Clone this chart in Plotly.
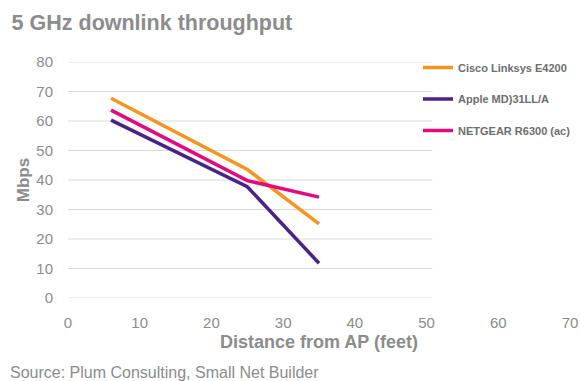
import plotly.graph_objects as go

distance = [6, 25, 35]
cisco = [67.7, 43.6, 25.1]
apple = [60.3, 37.7, 11.8]
netgear = [63.7, 39.8, 34.2]
series_names = ["Cisco Linksys E4200", "Apple MD)31LL/A", "NETGEAR R6300 (ac)"]
colors = ["#F7941D", "#4B2386", "#E5097F"]
y_ticks = [0, 10, 20, 30, 40, 50, 60, 70, 80]
x_ticks = [0, 10, 20, 30, 40, 50, 60, 70]

GRAY = "#8C8C8C"
FONT = "Liberation Sans, Arial, sans-serif"

fig = go.Figure()
for i, (name, vals, c) in enumerate(zip(series_names, [cisco, apple, netgear], colors)):
    fig.add_trace(go.Scatter(x=distance, y=vals, mode="lines", name="<b>" + name + "</b>",
                             legendgroup=f"g{i}",
                             line=dict(color=c, width=3.5)))

# gridlines (only across left part of plot, as in reference)
for t in y_ticks:
    fig.add_shape(type="line", xref="paper", yref="y", x0=0, x1=0.726, y0=t, y1=t,
                  line=dict(color="#D9D9D9", width=1), layer="below")

fig.update_layout(
    width=580, height=381,
    margin=dict(l=68, r=10, t=62, b=83, autoexpand=False),
    paper_bgcolor="white", plot_bgcolor="white",
    font=dict(family=FONT, color=GRAY),
    title=dict(text="<b>5 GHz downlink throughput</b>", x=0.02, xanchor="left",
               y=0.942, yanchor="middle", font=dict(size=21.5, color=GRAY)),
    xaxis=dict(range=[0, 70], tickvals=x_ticks, showgrid=False, zeroline=False,
               showline=False, ticks="", tickfont=dict(size=15, color=GRAY),
               ticklabelstandoff=14,
               title=dict(text="<b>Distance from AP (feet)</b>", font=dict(size=18, color=GRAY),
                          standoff=5)),
    yaxis=dict(range=[0, 80], tickvals=y_ticks, showgrid=False, zeroline=False,
               showline=False, ticks="", tickfont=dict(size=15, color=GRAY),
               ticklabelstandoff=14,
               title=dict(text="<b>Mbps</b>", font=dict(size=17, color=GRAY), standoff=2)),
    legend=dict(x=(418 - 68) / 502, y=(298 - 53) / 236, xanchor="left", yanchor="top",
                font=dict(size=11, color="#6E6E6E"), itemwidth=30, tracegroupgap=12.5,
                bgcolor="rgba(0,0,0,0)"),
    showlegend=True,
)
fig.update_xaxes(tickprefix="<b>", ticksuffix="</b>")
fig.update_yaxes(tickprefix="<b>", ticksuffix="</b>")

fig.add_annotation(text="Source: Plum Consulting, Small Net Builder", xref="paper", yref="paper",
                   x=-60/502, y=-74/236, xanchor="left", yanchor="middle", showarrow=False,
                   font=dict(size=16, color=GRAY))

fig.write_html("out.html")
